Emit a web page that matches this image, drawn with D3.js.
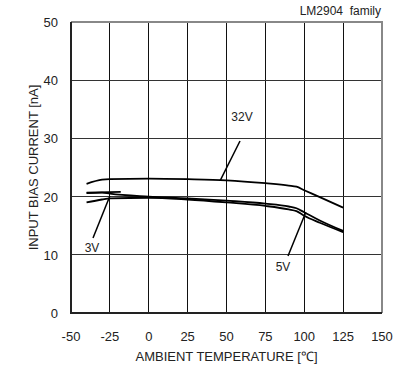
<!DOCTYPE html>
<html lang="en">
<head>
<meta charset="UTF-8">
<title>LM2904 input bias current</title>
<style>
    body { margin: 0; background: #fff; }
    svg text { font-family: "Liberation Sans", Arial, sans-serif; fill: #222; }
</style>
</head>
<body>
<div id="chart"></div>
<script src="https://d3js.org/d3.v7.min.js"></script>
<script>
var width = 408, height = 370;
var padding = { left: 71, right: 26, top: 22, bottom: 57 };

// tick values
var xTicks = [-50, -25, 0, 25, 50, 75, 100, 125, 150];
var yTicks = [0, 10, 20, 30, 40, 50];

// series: temperature [°C] / bias current [nA]
var temps32 = [-40, -30, -25, 0, 25, 50, 75, 90, 95, 100, 110, 125];
var vals32  = [22.2, 22.9, 23.0, 23.1, 23.0, 22.8, 22.3, 21.9, 21.7, 21.1, 19.9, 18.1];
var temps3  = [-40, -30, -25, 0, 25, 50, 75, 90, 95, 100, 110, 125];
var vals3   = [20.6, 20.7, 20.5, 20.0, 19.7, 19.3, 18.8, 18.3, 18.0, 17.3, 15.9, 14.1];
var temps3b = [-40, -18];
var vals3b  = [20.7, 20.8];
var temps5  = [-40, -30, -25, 0, 25, 50, 75, 90, 95, 100, 110, 125];
var vals5   = [19.0, 19.5, 19.7, 19.8, 19.5, 19.0, 18.4, 17.8, 17.5, 16.7, 15.5, 13.9];

var svg = d3.select('#chart').append('svg').attr('width', width).attr('height', height);

var xScale = d3.scaleLinear().domain([-50, 150]).range([padding.left, width - padding.right]);
var yScale = d3.scaleLinear().domain([0, 50]).range([height - padding.bottom, padding.top]);

// grid
svg.append('g').selectAll('line')
    .data(xTicks.slice(1, -1))
    .enter().append('line')
    .attr('x1', function(d) { return xScale(d); })
    .attr('x2', function(d) { return xScale(d); })
    .attr('y1', yScale(50)).attr('y2', yScale(0))
    .attr('stroke', '#111').attr('stroke-width', 1).attr('shape-rendering', 'crispEdges');
svg.append('g').selectAll('line')
    .data(yTicks.slice(1, -1))
    .enter().append('line')
    .attr('y1', function(d) { return yScale(d); })
    .attr('y2', function(d) { return yScale(d); })
    .attr('x1', xScale(-50)).attr('x2', xScale(150))
    .attr('stroke', '#333').attr('stroke-width', 1).attr('shape-rendering', 'crispEdges');

// frame: top/right grey, left/bottom black
svg.append('path')
    .attr('d', 'M' + xScale(-50) + ',' + yScale(50) + 'H' + xScale(150) + 'V' + yScale(0))
    .attr('fill', 'none').attr('stroke', '#888').attr('stroke-width', 2);
svg.append('path')
    .attr('d', 'M' + xScale(-50) + ',' + yScale(50) + 'V' + yScale(0) + 'H' + xScale(150))
    .attr('fill', 'none').attr('stroke', '#222').attr('stroke-width', 2);

// tick labels
svg.append('g').selectAll('text')
    .data(xTicks).enter().append('text')
    .attr('x', function(d) { return xScale(d); })
    .attr('y', 341)
    .attr('text-anchor', 'middle')
    .attr('font-size', 13)
    .text(function(d) { return d; });
svg.append('g').selectAll('text')
    .data(yTicks).enter().append('text')
    .attr('x', 58)
    .attr('y', function(d) { return yScale(d) + 5; })
    .attr('text-anchor', 'end')
    .attr('font-size', 13)
    .text(function(d) { return d; });

// axis titles
svg.append('text')
    .attr('x', xScale(50)).attr('y', 361)
    .attr('text-anchor', 'middle').attr('font-size', 13)
    .text('AMBIENT TEMPERATURE [℃]');
svg.append('text')
    .attr('transform', 'translate(38,' + yScale(25) + ') rotate(-90)')
    .attr('text-anchor', 'middle').attr('font-size', 13)
    .text('INPUT BIAS CURRENT [nA]');
svg.append('text')
    .attr('x', 381).attr('y', 15)
    .attr('text-anchor', 'end').attr('font-size', 12)
    .style('white-space', 'pre')
    .text('LM2904  family');

// curves
var line = d3.line()
    .x(function(d) { return xScale(d[0]); })
    .y(function(d) { return yScale(d[1]); })
    .curve(d3.curveMonotoneX);
var series = [[temps32, vals32], [temps3, vals3], [temps3b, vals3b], [temps5, vals5]];
svg.append('g').selectAll('path')
    .data(series).enter().append('path')
    .attr('d', function(s) { return line(d3.zip(s[0], s[1])); })
    .attr('fill', 'none').attr('stroke', '#000').attr('stroke-width', 1.8);

// labels with pointer lines (anchored at data points)
var labels = [
    { text: '32V', t: 46, v: 22.8, lx: 242, ly: 121, px: 240, py: 141 },
    { text: '3V', t: -25, v: 20.1, lx: 92, ly: 252, px: 93, py: 238 },
    { text: '5V', t: 101, v: 17.3, lx: 283, ly: 271, px: 288, py: 256 }
];
var lab = svg.append('g');
labels.forEach(function(l) {
    lab.append('line')
        .attr('x1', l.px).attr('y1', l.py)
        .attr('x2', xScale(l.t)).attr('y2', yScale(l.v))
        .attr('stroke', '#000').attr('stroke-width', 1.5);
    lab.append('text')
        .attr('x', l.lx).attr('y', l.ly)
        .attr('text-anchor', 'middle').attr('font-size', 12)
        .text(l.text);
});
</script>
</body>
</html>
